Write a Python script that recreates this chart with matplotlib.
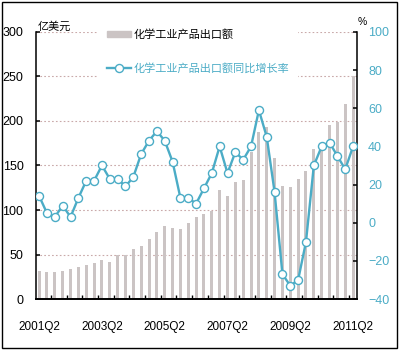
import numpy as np
import matplotlib.pyplot as plt
from matplotlib.patches import Rectangle
from matplotlib.lines import Line2D
from matplotlib.patches import Patch

# quarterly data 2001Q2 .. 2011Q2
export_value = [32, 30, 30, 32, 34, 36, 38, 41, 44, 42,
                49, 50, 56, 60, 68, 75, 82, 80, 79, 85,
                92, 96, 99, 122, 116, 132, 134, 165, 188, 193,
                158, 127, 126, 135, 144, 168, 175, 196, 199, 219,
                251]
yoy_growth = [14, 5, 3, 9, 3, 13, 22, 22, 30, 23,
              23, 19, 24, 36, 43, 48, 43, 32, 13, 13,
              10, 18, 26, 40, 26, 37, 33, 40, 59, 45,
              16, -27, -33, -30, -10, 30, 40, 42, 35, 28,
              40]
tick_labels = ['2001Q2', '2003Q2', '2005Q2', '2007Q2', '2009Q2', '2011Q2']
tick_pos = [0, 8, 16, 24, 32, 40]

bar_name = '化学工业产品出口额'
line_name = '化学工业产品出口额同比增长率'

cyan = '#4BACC6'
bar_c = '#CBC4C4'
num_font = ['Liberation Sans Narrow', 'Liberation Sans']
cjk_font = ['Noto Sans CJK SC', 'DejaVu Sans']

fig = plt.figure(figsize=(4, 3.51), dpi=100)
ax = fig.add_axes([0.09, 0.148, 0.8025, 0.761])
ax2 = ax.twinx()

x = np.arange(len(export_value))
ax.bar(x, export_value, width=0.38, color=bar_c, zorder=2)
ax2.plot(x, yoy_growth, color=cyan, lw=1.7, marker='o', ms=5.8,
         mfc='white', mec=cyan, mew=1.0, zorder=3)

ax.set_xlim(-0.4, 40.5)
ax.set_ylim(0, 300)
ax2.set_ylim(-40, 100)
ax.set_yticks(np.arange(0, 301, 50))
ax2.set_yticks(np.arange(-40, 101, 20))
ax.set_xticks(tick_pos)
ax.set_xticklabels(tick_labels)
ax.set_xticks(np.arange(1.5, 40, 2), minor=True)

ax.set_axisbelow(True)
ax.yaxis.grid(True, color='#C9A9A9', ls=(0, (1.5, 2)), lw=0.8)

for s in ['top', 'right']:
    ax.spines[s].set_visible(False)
for s in ['top', 'left', 'bottom']:
    ax2.spines[s].set_visible(False)
ax.spines['left'].set_linewidth(1.1)
ax.spines['bottom'].set_linewidth(1.4)
ax2.spines['right'].set_linewidth(1.1)

ax.tick_params(axis='y', direction='in', length=3, width=1.1, pad=9,
               labelsize=9)
ax.tick_params(axis='x', which='major', length=0, pad=16, labelsize=8.5)
ax.tick_params(axis='x', which='minor', direction='in', length=3, width=1)
ax2.tick_params(axis='y', direction='in', length=3, width=1.1, pad=8,
                labelsize=9, labelcolor=cyan)
for lab in ax.get_xticklabels() + ax.get_yticklabels() + ax2.get_yticklabels():
    lab.set_family(num_font)

fig.text(0.095, 0.923, '亿美元', family=cjk_font, fontsize=8, va='center')
fig.text(0.893, 0.936, '%', family=num_font, fontsize=7.5, va='center',
         ha='left')

handles = [Patch(color=bar_c),
           Line2D([], [], color=cyan, lw=1.7, marker='o', ms=5.8,
                  mfc='white', mec=cyan, mew=1.0)]
leg = ax2.legend(handles, [bar_name, line_name], loc='upper left',
                 bbox_to_anchor=(0.245, 0.943), bbox_transform=fig.transFigure,
                 borderaxespad=0, frameon=True, facecolor='white',
                 edgecolor='none', framealpha=1, fancybox=False,
                 prop={'family': cjk_font, 'size': 8},
                 handlelength=2.2, handleheight=0.5, handletextpad=0.2,
                 labelspacing=2.1, borderpad=0.8)
leg.set_zorder(10)
leg.get_texts()[1].set_color(cyan)

fig.patches.append(Rectangle((0.005, 0.008), 0.988, 0.986, fill=False,
                             edgecolor='black', lw=1.0,
                             transform=fig.transFigure))

fig.savefig('out.png', dpi=100)
